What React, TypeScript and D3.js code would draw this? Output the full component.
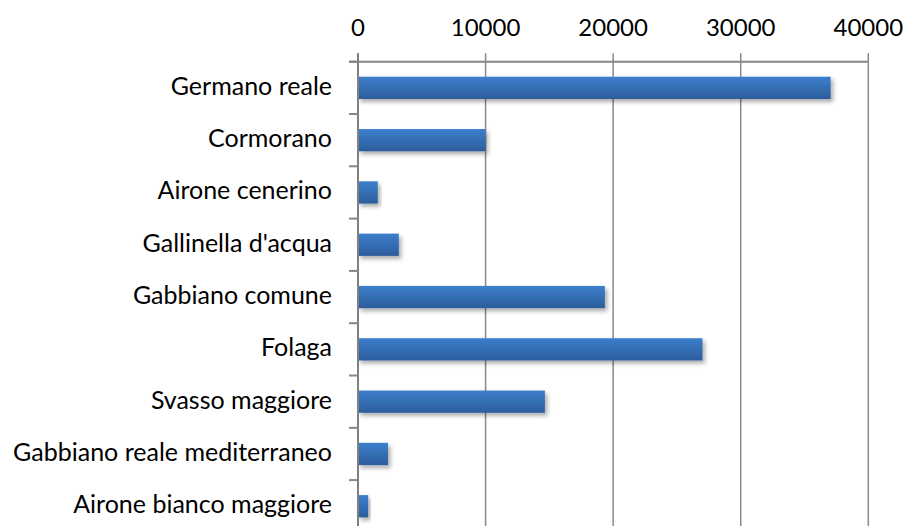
import React from "react";
import * as d3 from "d3";

const categories: string[] = [
  "Germano reale",
  "Cormorano",
  "Airone cenerino",
  "Gallinella d'acqua",
  "Gabbiano comune",
  "Folaga",
  "Svasso maggiore",
  "Gabbiano reale mediterraneo",
  "Airone bianco maggiore",
];
const values: number[] = [37050, 10000, 1550, 3200, 19350, 27000, 14650, 2350, 800];
const tickValues: number[] = [0, 10000, 20000, 30000, 40000];

const W = 904;
const H = 526;
const X0 = 358;
const X1 = 868.3;
const Y0 = 61.7;
const STEP = 52.3;
const FONT = "Lato, 'Open Sans', sans-serif";

export default function App() {
  const x = d3.scaleLinear().domain([0, 40000]).range([X0, X1]);
  const y = d3
    .scaleBand<string>()
    .domain(categories)
    .range([Y0, Y0 + STEP * categories.length])
    .paddingInner(0.574)
    .paddingOuter(0.287);
  const bw = y.bandwidth();
  const boundaries = d3.range(categories.length + 1).map((i) => Y0 + i * y.step());

  return (
    <svg
      width={W}
      height={H}
      style={{ position: "absolute", left: 0, top: 0, background: "#fff" }}
    >
      <defs>
        <linearGradient id="barGrad" x1="0" y1="0" x2="0" y2="1">
          <stop offset="0%" stopColor="#3d7fcd" />
          <stop offset="100%" stopColor="#2c5d9b" />
        </linearGradient>
        <filter id="shadow" x="-10%" y="-30%" width="130%" height="190%">
          <feDropShadow dx="2.5" dy="3" stdDeviation="2.2" floodColor="#000" floodOpacity="0.32" />
        </filter>
      </defs>
      <rect x={0} y={0} width={W} height={H} fill="#fff" />

      {/* gridlines */}
      {tickValues.slice(1).map((t) => (
        <line
          key={"g" + t}
          x1={x(t)}
          x2={x(t)}
          y1={Y0}
          y2={H}
          stroke="#8a8a8a"
          strokeWidth={1.5}
        />
      ))}

      {/* bars */}
      {categories.map((c, i) => (
        <rect
          key={c}
          x={x(0)}
          y={y(c)!}
          width={x(values[i]) - x(0)}
          height={bw}
          fill="url(#barGrad)"
          filter="url(#shadow)"
        />
      ))}

      {/* top axis line */}
      <line x1={X0 - 9} x2={x(40000)} y1={Y0} y2={Y0} stroke="#868686" strokeWidth={2} />
      {/* top axis ticks */}
      {tickValues.map((t) => (
        <line
          key={"t" + t}
          x1={x(t)}
          x2={x(t)}
          y1={Y0 - 8.5}
          y2={Y0}
          stroke="#868686"
          strokeWidth={1.5}
        />
      ))}
      {/* vertical category axis */}
      <line x1={X0} x2={X0} y1={Y0 - 8.5} y2={H} stroke="#808080" strokeWidth={2} />
      {boundaries.map((b, i) => (
        <line key={"c" + i} x1={X0 - 9} x2={X0} y1={b} y2={b} stroke="#868686" strokeWidth={2} />
      ))}

      {/* tick labels */}
      {tickValues.map((t) => (
        <text
          key={"l" + t}
          x={x(t)}
          y={Y0 - 25.7}
          textAnchor="middle"
          fontFamily={FONT}
          fontSize={24}
          fill="#000"
        >
          {t}
        </text>
      ))}

      {/* category labels */}
      {categories.map((c) => (
        <text
          key={"cl" + c}
          x={332}
          y={y(c)! + bw / 2 + 7}
          textAnchor="end"
          fontFamily={FONT}
          fontSize={25}
          fill="#000"
        >
          {c}
        </text>
      ))}
    </svg>
  );
}
